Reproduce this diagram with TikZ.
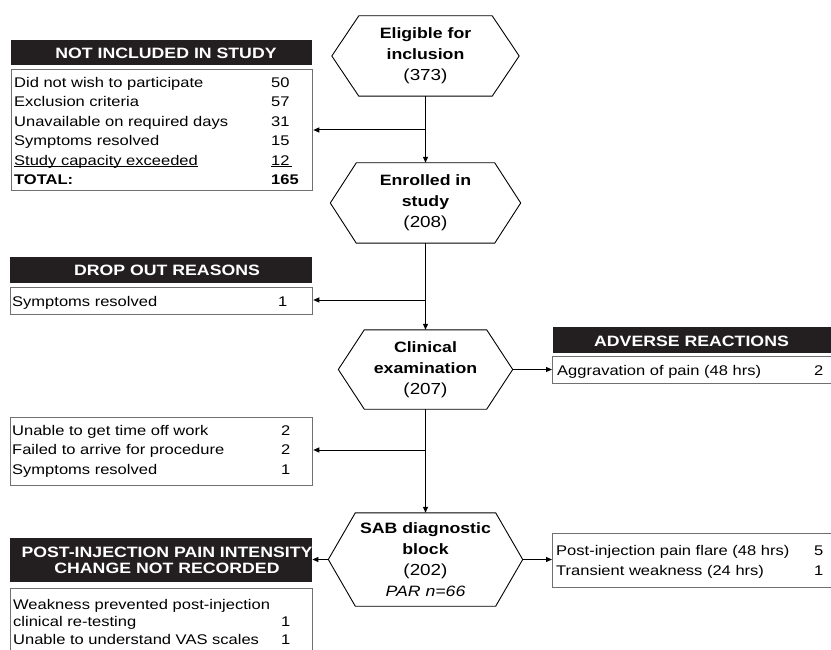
\documentclass[tikz,border=0pt]{standalone}
\usepackage{fontspec}
\setmainfont{Liberation Sans}[FakeStretch=1.18]
\usetikzlibrary{arrows.meta,calc}
\definecolor{hdrblack}{HTML}{231F20}
\definecolor{boxgray}{HTML}{707070}
\newcommand\myul[1]{\setbox0\hbox{#1}\rlap{\rule[-1.6pt]{\wd0}{0.7pt}}\box0}
\newcommand\hexoutline[2]{\draw[hexline] (#1.west) -- ([xshift=#2pt]#1.north west) -- ([xshift=-#2pt]#1.north east) -- (#1.east) -- ([xshift=-#2pt]#1.south east) -- ([xshift=#2pt]#1.south west) -- cycle;}
\tikzset{
 hdr/.style={rectangle,fill=hdrblack,draw=none,inner sep=0pt,anchor=north west},
 bodybox/.style={rectangle,draw=boxgray,line width=1.3pt,inner sep=0pt,anchor=north west},
 hdrtxt/.style={text=white,font=\fontsize{15}{16}\selectfont\bfseries,inner sep=0pt,anchor=base},
 txt/.style={font=\fontsize{14}{16}\selectfont,inner sep=0pt,anchor=base west},
 hexn/.style={rectangle,draw=none,inner sep=0pt,align=center,font=\fontsize{15}{21}\selectfont},
 hexline/.style={draw=black,line width=0.9pt,line join=miter},
 conn/.style={draw=black,line width=1pt,-{Triangle[length=6pt,width=5pt]}},
}
\begin{document}
\begin{tikzpicture}[x=1pt,y=-1pt]
\useasboundingbox (0,0) rectangle (831,650);
\fill[white] (0,0) rectangle (831,650);
\clip (0,0) rectangle (831,650);

% headers
\node[hdr,minimum width=301pt,minimum height=25pt] (nih) at (11,40) {};
\node[hdr,minimum width=302pt,minimum height=26pt] (doh) at (10,257) {};
\node[hdr,minimum width=300pt,minimum height=26pt] (adh) at (553,327) {};
\node[hdr,minimum width=302pt,minimum height=44pt] (pih) at (10,538) {};

% body boxes
\node[bodybox,minimum width=301pt,minimum height=121pt] (nib) at (11,69) {};
\node[bodybox,minimum width=302pt,minimum height=27pt] (dob) at (10,287) {};
\node[bodybox,minimum width=302pt,minimum height=68pt] (wdb) at (10,417) {};
\node[bodybox,minimum width=320pt,minimum height=27pt] (adb) at (552,356) {};
\node[bodybox,minimum width=320pt,minimum height=54pt] (aeb) at (552,533) {};
\node[bodybox,minimum width=302pt,minimum height=90pt] (pib) at (10,588) {};

% header texts
\node[hdrtxt] (nit) at (166,58.3) {NOT INCLUDED IN STUDY};
\node[hdrtxt] (dot) at (167,276) {DROP OUT REASONS};
\node[hdrtxt] (adt) at (691.5,346) {ADVERSE REACTIONS};
\node[hdrtxt] (pit1) at (167,557.7) {POST-INJECTION PAIN INTENSITY};
\node[hdrtxt] (pit2) at (167,573.3) {CHANGE NOT RECORDED};

% not included
\node[txt] (a1) at (14,87.3) {Did not wish to participate};
\node[txt] (a1n) at (271,87.3) {50};
\node[txt] (a2) at (14,106.8) {Exclusion criteria};
\node[txt] (a2n) at (271,106.8) {57};
\node[txt] (a3) at (14,126.3) {Unavailable on required days};
\node[txt] (a3n) at (271,126.3) {31};
\node[txt] (a4) at (14,145.8) {Symptoms resolved};
\node[txt] (a4n) at (271,145.8) {15};
\node[txt] (a5) at (14,165.3) {\myul{Study capacity exceeded}};
\node[txt] (a5n) at (271,165.3) {\myul{12\,}};
\node[txt] (a6) at (14,184.8) {\bfseries TOTAL:};
\node[txt] (a6n) at (271,184.8) {\bfseries 165};

% drop out
\node[txt] (b1t) at (12,306) {Symptoms resolved};
\node[txt] (b1n) at (278,306) {1};

% withdrawn
\node[txt] (c1) at (12,435) {Unable to get time off work};
\node[txt] (c1n) at (281,435) {2};
\node[txt] (c2) at (12,454.5) {Failed to arrive for procedure};
\node[txt] (c2n) at (281,454.5) {2};
\node[txt] (c3) at (12,474) {Symptoms resolved};
\node[txt] (c3n) at (281,474) {1};

% adverse
\node[txt] (d1) at (557,375.5) {Aggravation of pain (48 hrs)};
\node[txt] (d1n) at (814,375.5) {2};
\node[txt] (e1t) at (556,555) {Post-injection pain flare (48 hrs)};
\node[txt] (e1n) at (814,555) {5};
\node[txt] (e2t) at (556,575) {Transient weakness (24 hrs)};
\node[txt] (e2n) at (814,575) {1};

% post injection
\node[txt] (f1) at (13,609) {Weakness prevented post-injection};
\node[txt] (f2) at (13,626) {clinical re-testing};
\node[txt] (f2n) at (281,626) {1};
\node[txt] (f3) at (13,644) {Unable to understand VAS scales};
\node[txt] (f3n) at (281,644) {1};

% hexagons
\node[hexn,minimum width=187pt,minimum height=80pt] (elig) at (425.5,56) {\textbf{Eligible for}\\\textbf{inclusion}\\{\fontsize{16}{21}\selectfont (373)}};
\hexoutline{elig}{27}
\node[hexn,minimum width=190pt,minimum height=80pt] (enr) at (425.5,203) {\textbf{Enrolled in}\\\textbf{study}\\{\fontsize{16}{21}\selectfont (208)}};
\hexoutline{enr}{26}
\node[hexn,minimum width=174pt,minimum height=79pt] (clin) at (425.5,369.5) {\textbf{Clinical}\\\textbf{examination}\\{\fontsize{16}{21}\selectfont (207)}};
\hexoutline{clin}{26}
\node[hexn,minimum width=194pt,minimum height=93pt] (sab) at (425.5,559.5) {\textbf{SAB diagnostic}\\\textbf{block}\\{\fontsize{16}{21}\selectfont (202)}\\\textit{PAR n=66}};
\hexoutline{sab}{27}

% connectors
\coordinate (j1) at (425.5,130);
\coordinate (j2) at (425.5,300);
\coordinate (j3) at (425.5,450);
\draw[conn] (elig.south) -- (enr.north);
\draw[conn] (j1) -- (nib.east |- j1);
\draw[conn] (enr.south) -- (clin.north);
\draw[conn] (j2) -- (dob.east |- j2);
\draw[conn] (clin.south) -- (sab.north);
\draw[conn] (j3) -- (wdb.east |- j3);
\draw[conn] (clin.east) -- (clin.east -| adb.west);
\draw[conn] (sab.west) -- (sab.west -| pih.east);
\draw[conn] (sab.east) -- (sab.east -| aeb.west);
\end{tikzpicture}
\end{document}
